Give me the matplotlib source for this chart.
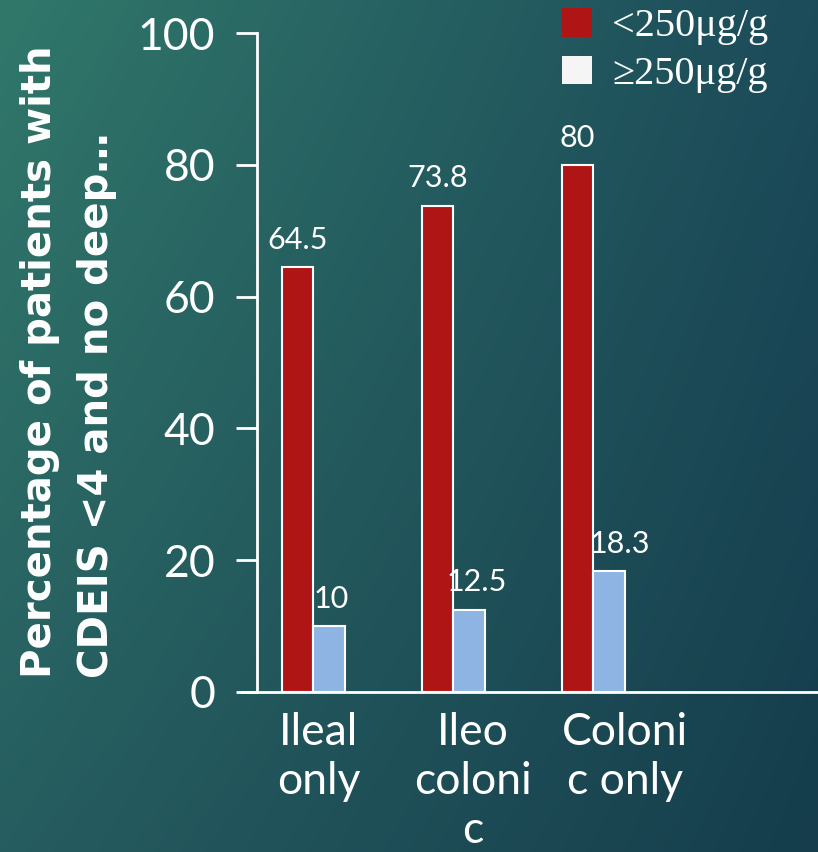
import numpy as np
import matplotlib
matplotlib.use("Agg")
import matplotlib.pyplot as plt
from matplotlib.patches import Patch

# --- data ---
categories = ["Ileal\nonly", "Ileo\ncoloni\nc", "Coloni\nc only"]
low_calpro = [64.5, 73.8, 80]      # <250 µg/g
high_calpro = [10, 12.5, 18.3]     # >=250 µg/g
series_names = ["<250\u03bcg/g", "\u2265250\u03bcg/g"]
y_ticks = [0, 20, 40, 60, 80, 100]

RED = "#B01515"
BLUE = "#8EB4E3"
LEGEND_WHITE = "#F5F5F5"
TXT = "white"
THIN = ["Lato", "DejaVu Sans"]

W, H = 818, 852
fig = plt.figure(figsize=(W / 100, H / 100), dpi=100)

# slide background: teal gradient, lighter top-left, darker bottom-right
bg = fig.add_axes([0, 0, 1, 1], zorder=-10)
tl = np.array([0x31, 0x78, 0x6A]) / 255
tr = np.array([0x1C, 0x4B, 0x5A]) / 255
bl = np.array([0x26, 0x5D, 0x60]) / 255
br = np.array([0x15, 0x3D, 0x4C]) / 255
u = np.linspace(0, 1, 200)[None, :, None]
v = np.linspace(0, 1, 200)[:, None, None]
grad = (1 - v) * ((1 - u) * tl + u * tr) + v * ((1 - u) * bl + u * br)
bg.imshow(grad, aspect="auto", extent=[0, 1, 0, 1], interpolation="bilinear")
bg.set_axis_off()

# main plot area
left_px, right_px = 257, 818
bottom_px, top_px = 692, 33
ax = fig.add_axes([left_px / W, (H - bottom_px) / H,
                   (right_px - left_px) / W, (bottom_px - top_px) / H])
ax.set_facecolor("none")

x = np.arange(len(categories))
bw = 0.225
ax.bar(x - bw / 2, low_calpro, bw, color=RED, edgecolor="white", linewidth=1.5)
ax.bar(x + bw / 2, high_calpro, bw, color=BLUE, edgecolor="white", linewidth=1.5)

# value labels
for xi, val in zip(x, low_calpro):
    ax.text(xi - bw / 2, val + 2.0, f"{val:g}", ha="center", va="bottom",
            color=TXT, fontsize=22, family=THIN)
for xi, val, dx in zip(x, high_calpro, [0.02, 0.06, 0.08]):
    ax.text(xi + bw / 2 + dx, val + 2.0, f"{val:g}", ha="center", va="bottom",
            color=TXT, fontsize=22, family=THIN)

ax.set_xlim(-0.4, 3.607)
ax.set_ylim(0, 100)
ax.set_yticks(y_ticks)
ax.set_yticklabels([str(t) for t in y_ticks], family=THIN, fontsize=32, color=TXT)
ax.tick_params(axis="y", direction="out", length=15, width=2, color="white", pad=15)
ax.set_xticks([])

# category labels below the axis
for xi, lab, dx in zip(x, categories, [0.04, 0.14, 0.23]):
    ax.text(xi + dx, -3.0, lab, ha="center", va="top", color=TXT, fontsize=32,
            family=THIN, linespacing=1.24)

for s in ["top", "right"]:
    ax.spines[s].set_visible(False)
ax.spines["left"].set_color("white")
ax.spines["left"].set_linewidth(2)
ax.spines["bottom"].set_color("white")
ax.spines["bottom"].set_linewidth(2)
ax.spines["bottom"].set_bounds(-0.51, 3.607)

fig.text(20 / W, 1 - 362 / H, "Percentage of patients with\nCDEIS <4 and no deep\u2026",
         rotation=90, ha="left", va="center", color=TXT, fontsize=29,
         fontweight="bold", family=["DejaVu Sans"], linespacing=1.55,
         transform=fig.transFigure)

handles = [Patch(facecolor=RED, edgecolor="none"),
           Patch(facecolor=LEGEND_WHITE, edgecolor="none")]
fig.legend(handles, series_names, loc="upper left",
           bbox_to_anchor=(562 / W, 1 - 8 / H), frameon=False,
           prop={"family": ["Liberation Serif", "DejaVu Serif"], "size": 29},
           labelcolor=TXT, handlelength=0.75, handleheight=0.72,
           handletextpad=0.5, labelspacing=0.25, borderpad=0.0, borderaxespad=0.0)

fig.savefig("out.png", dpi=100)
